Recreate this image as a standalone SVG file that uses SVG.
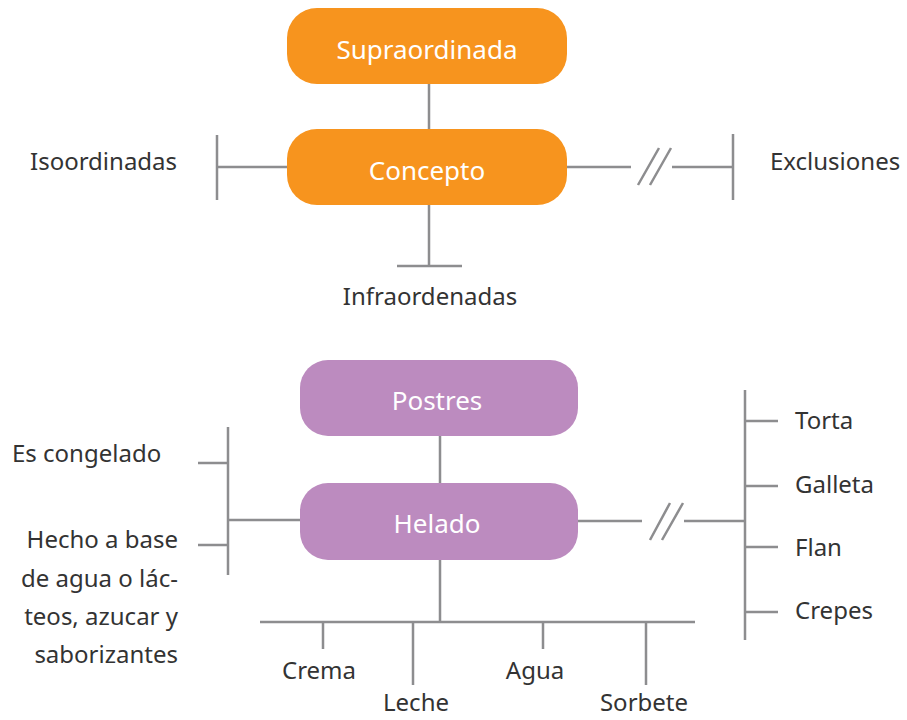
<svg xmlns="http://www.w3.org/2000/svg" width="907" height="720" viewBox="0 0 907 720">
<style>
.ln{stroke:#8d8d8f;stroke-width:2.5;fill:none}
.or{fill:#f7941e}
.pu{fill:#bc8bbf}
.wt{fill:#ffffff;font-family:"Noto Sans",sans-serif;font-size:26px;text-anchor:middle}
.lb{fill:#333333;font-family:"Noto Sans",sans-serif;font-size:24px}
.mid{text-anchor:middle}
.end{text-anchor:end}
</style>
<rect width="907" height="720" fill="#ffffff"/>
<g id="connectors">
<path class="ln" d="M429 84V129M429 205V266M397 266H462M287 167H217M217 135V200M567 167H631M672 167H734M733 134V200"/>
<path class="ln" d="M638 185L659 148M650 185L671 148"/>
<path class="ln" d="M440 436V483M300 520H228M228 427V575M198 463H228M198 545H228"/>
<path class="ln" d="M578 521H642M684 521H745M745 390V640M745 421H778M745 486H778M745 547H778M745 612H778"/>
<path class="ln" d="M650 540L670 503M662 540L683 503"/>
<path class="ln" d="M440 560V622M260 622H695M323 622V649M413 622V685M543 622V649M646 622V685"/>
</g>
<g id="supraordinada"><rect class="or" x="287" y="8" width="280" height="76" rx="30"/><text class="wt" x="427" y="59">Supraordinada</text></g>
<g id="concepto"><rect class="or" x="287" y="129" width="280" height="76" rx="30"/><text class="wt" x="427" y="180">Concepto</text></g>
<g id="isoordinadas"><text class="lb" x="30" y="170">Isoordinadas</text></g>
<g id="exclusiones"><text class="lb" x="770" y="170">Exclusiones</text></g>
<g id="infraordenadas"><text class="lb mid" x="430" y="305">Infraordenadas</text></g>
<g id="postres"><rect class="pu" x="300" y="360" width="278" height="76" rx="28"/><text class="wt" x="437" y="410">Postres</text></g>
<g id="helado"><rect class="pu" x="300" y="483" width="278" height="77" rx="28"/><text class="wt" x="437" y="533">Helado</text></g>
<g id="es-congelado"><text class="lb" x="12" y="462">Es congelado</text></g>
<g id="hecho"><text class="lb end" x="178" y="548">Hecho a base</text><text class="lb end" x="178" y="587">de agua o lác-</text><text class="lb end" x="178" y="625">teos, azucar y</text><text class="lb end" x="178" y="663">saborizantes</text></g>
<g id="torta"><text class="lb" x="795" y="429">Torta</text></g>
<g id="galleta"><text class="lb" x="795" y="493">Galleta</text></g>
<g id="flan"><text class="lb" x="795" y="556">Flan</text></g>
<g id="crepes"><text class="lb" x="795" y="619">Crepes</text></g>
<g id="crema"><text class="lb mid" x="319" y="679">Crema</text></g>
<g id="leche"><text class="lb mid" x="416" y="711">Leche</text></g>
<g id="agua"><text class="lb mid" x="535" y="679">Agua</text></g>
<g id="sorbete"><text class="lb mid" x="644" y="711">Sorbete</text></g>
</svg>
